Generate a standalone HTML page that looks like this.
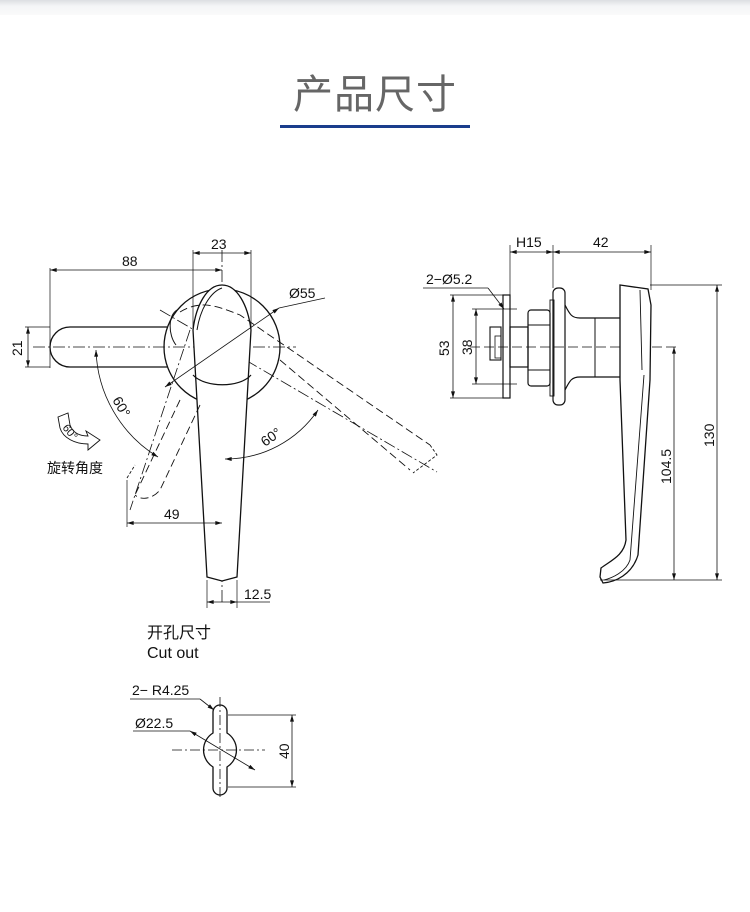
<!DOCTYPE html>
<html><head><meta charset="utf-8"><style>
body{margin:0;width:750px;height:912px;background:#fff;overflow:hidden;position:relative;font-family:"Liberation Sans","Noto Sans CJK SC",sans-serif}
.top{position:absolute;left:0;top:0;width:750px;height:15px;background:linear-gradient(#dcdee2,#f4f5f7 40%,#fafafa)}
.title{position:absolute;left:0;width:750px;top:62px;text-align:center;font-size:40px;color:#666;letter-spacing:1px}
.ul{position:absolute;left:280px;top:125px;width:190px;height:3px;background:#1a3d8c}
svg{position:absolute;left:0;top:0}
</style></head><body>
<div class="top"></div>
<div class="title">产品尺寸</div>
<div class="ul"></div>
<svg width="750" height="912" viewBox="0 0 750 912" font-family="Liberation Sans, Noto Sans CJK SC, sans-serif" fill="none" stroke="#111" stroke-width="1">
<defs><marker id="a" viewBox="0 0 10 6" refX="10" refY="3" markerWidth="9" markerHeight="5" orient="auto-start-reverse"><path d="M0,0L10,3L0,6z" fill="#111" stroke="none"/></marker></defs>
<!-- LEFT VIEW -->
<g stroke-dasharray="12,3,2,3" stroke-width="0.8">
<line x1="33" y1="347" x2="296" y2="347"/>
<line x1="222" y1="250" x2="222" y2="605"/>
<line x1="160" y1="310" x2="437" y2="472"/>
<line x1="190" y1="330" x2="130" y2="510"/>
</g>
<circle cx="222" cy="347" r="58" stroke-width="1.3"/>
<path d="M167,327H70A20,20 0 0 0 70,367H167" stroke-width="1.3"/>
<path d="M222,285C207,285 196,305 193,330L207,577L222,581L237,577L251,330C248,305 237,285 222,285Z" fill="#fff" stroke-width="1.3"/>
<path d="M193,375C205,388 240,388 251,375" stroke-width="1.2"/>
<path d="M222,288C210,292 200,310 197,330" stroke-width="1"/>
<path d="M177,310C168,315 168,335 176,345" stroke-width="1"/>
<g stroke-dasharray="8,4" stroke-width="0.9">
<path d="M180,312C200,300 215,305 240,315L430,445"/>
<path d="M280,360L410,470"/>
<path d="M180,400L135,495"/>
<path d="M200,405L160,490C152,500 140,500 135,495"/>
</g>
<path d="M430,445L437,455L413,473" stroke-width="0.9" stroke-dasharray="3,2"/>
<path d="M127,478L135,465" stroke-width="0.9" stroke-dasharray="3,2"/>
<!-- dims -->
<line x1="50" y1="268" x2="50" y2="368" stroke-width="0.7"/>
<line x1="193" y1="250" x2="193" y2="330" stroke-width="0.7"/>
<line x1="251" y1="250" x2="251" y2="330" stroke-width="0.7"/>
<line x1="50" y1="270" x2="222" y2="270" marker-start="url(#a)" marker-end="url(#a)" stroke-width="0.8"/>
<line x1="193" y1="253" x2="251" y2="253" marker-start="url(#a)" marker-end="url(#a)" stroke-width="0.8"/>
<line x1="25" y1="327" x2="50" y2="327" stroke-width="0.7"/>
<line x1="25" y1="367" x2="50" y2="367" stroke-width="0.7"/>
<line x1="28" y1="327" x2="28" y2="367" marker-start="url(#a)" marker-end="url(#a)" stroke-width="0.8"/>
<line x1="165" y1="387" x2="279" y2="308" marker-start="url(#a)" marker-end="url(#a)" stroke-width="0.8"/>
<line x1="279" y1="308" x2="325" y2="298" stroke-width="0.8"/>
<line x1="127" y1="480" x2="127" y2="527" stroke-width="0.7"/>
<line x1="127" y1="523" x2="222" y2="523" marker-start="url(#a)" marker-end="url(#a)" stroke-width="0.8"/>
<line x1="207" y1="580" x2="207" y2="608" stroke-width="0.7"/>
<line x1="237" y1="580" x2="237" y2="608" stroke-width="0.7"/>
<line x1="207" y1="602" x2="237" y2="602" marker-start="url(#a)" marker-end="url(#a)" stroke-width="0.8"/>
<line x1="237" y1="602" x2="270" y2="602" stroke-width="0.8"/>
<path d="M96,350A130,130 0 0 0 158,457" marker-start="url(#a)" marker-end="url(#a)" stroke-width="0.8"/>
<path d="M225,459A112,112 0 0 0 318,410" marker-start="url(#a)" marker-end="url(#a)" stroke-width="0.8"/>
<g fill="#111" stroke="none" font-size="14">
<text x="122" y="266">88</text><text x="211" y="249">23</text>
<text x="289" y="298">Ø55</text><text x="244" y="599">12.5</text>
<text x="164" y="519">49</text>
<text transform="translate(22,356) rotate(-90)">21</text>
<text transform="translate(112,400) rotate(60)">60°</text>
<text transform="translate(265,447) rotate(-35)">60°</text>
<text x="47" y="473" font-size="14">旋转角度</text>
</g>
<path d="M58,417L68,413L70,425C73,433 80,436 88,436L86,431L100,440L88,450L88,444C75,444 63,438 60,428Z" stroke-width="0.9"/>
<text transform="translate(62,428) rotate(50)" font-size="11" fill="#111" stroke="none">60°</text>
<!-- RIGHT VIEW -->
<line x1="470" y1="347" x2="680" y2="347" stroke-dasharray="10,4" stroke-width="0.8"/>
<rect x="503" y="295" width="7" height="103" stroke-width="1.2"/>
<rect x="490" y="327" width="11" height="33" stroke-width="1.1"/>
<rect x="495" y="336" width="6" height="22" stroke-width="0.8"/>
<rect x="510" y="327" width="18" height="40" stroke-width="1.2"/>
<rect x="528" y="310" width="22" height="76" rx="3" stroke-width="1.2"/>
<line x1="528" y1="325" x2="550" y2="325"/><line x1="528" y1="370" x2="550" y2="370"/>
<rect x="550" y="300" width="4" height="96" stroke-width="0.9"/>
<rect x="553" y="288" width="12" height="117" rx="5" stroke-width="1.2"/>
<path d="M565,305C570,315 572,318 580,318H620M565,390C570,380 572,377 580,377H620" stroke-width="1.2"/>
<line x1="595" y1="318" x2="595" y2="377"/>
<path d="M620,285L648,289L651,305L650,380L638,555C632,575 615,582 603,583L600,577L601,568C612,560 624,555 626,540L620,380Z" fill="#fff" stroke-width="1.3"/>
<path d="M640,290L642,370M644,375L630,560C626,572 612,578 604,580" stroke-width="0.9"/>
<!-- right dims -->
<line x1="510" y1="245" x2="510" y2="295" stroke-width="0.7"/>
<line x1="553" y1="245" x2="553" y2="288" stroke-width="0.7"/>
<line x1="651" y1="245" x2="651" y2="290" stroke-width="0.7"/>
<line x1="510" y1="252" x2="553" y2="252" marker-start="url(#a)" marker-end="url(#a)" stroke-width="0.8"/>
<line x1="553" y1="252" x2="651" y2="252" marker-start="url(#a)" marker-end="url(#a)" stroke-width="0.8"/>
<line x1="423" y1="288" x2="488" y2="288" stroke-width="0.8"/>
<line x1="488" y1="288" x2="504" y2="309" marker-end="url(#a)" stroke-width="0.8"/>
<line x1="450" y1="295" x2="505" y2="295" stroke-width="0.7"/>
<line x1="450" y1="398" x2="505" y2="398" stroke-width="0.7"/>
<line x1="472" y1="309" x2="517" y2="309" stroke-width="0.7"/>
<line x1="472" y1="384" x2="517" y2="384" stroke-width="0.7"/>
<line x1="453" y1="295" x2="453" y2="398" marker-start="url(#a)" marker-end="url(#a)" stroke-width="0.8"/>
<line x1="476" y1="309" x2="476" y2="384" marker-start="url(#a)" marker-end="url(#a)" stroke-width="0.8"/>
<line x1="650" y1="285" x2="722" y2="285" stroke-width="0.7"/>
<line x1="600" y1="580" x2="722" y2="580" stroke-width="0.7"/>
<line x1="717" y1="285" x2="717" y2="580" marker-start="url(#a)" marker-end="url(#a)" stroke-width="0.8"/>
<line x1="674" y1="347" x2="674" y2="580" marker-start="url(#a)" marker-end="url(#a)" stroke-width="0.8"/>
<g fill="#111" stroke="none" font-size="14">
<text x="516" y="247">H15</text><text x="593" y="247">42</text>
<text x="426" y="284">2−Ø5.2</text>
<text transform="translate(449,356) rotate(-90)">53</text>
<text transform="translate(472,355) rotate(-90)">38</text>
<text transform="translate(714,447) rotate(-90)">130</text>
<text transform="translate(671,484) rotate(-90)">104.5</text>
</g>
<!-- CUTOUT -->
<g fill="#111" stroke="none" font-size="16">
<text x="147" y="638">开孔尺寸</text><text x="147" y="658">Cut out</text>
<text x="132" y="695" font-size="14">2− R4.25</text>
<text x="135" y="728" font-size="14">Ø22.5</text>
</g>
<path d="M213,712A7,7 0 0 1 227,712V733A20,20 0 0 1 227,767V788A7,7 0 0 1 213,788V767A20,20 0 0 1 213,733Z" stroke-width="1.3"/>
<line x1="220" y1="697" x2="220" y2="800" stroke-dasharray="10,3,2,3" stroke-width="0.8"/>
<line x1="172" y1="750" x2="265" y2="750" stroke-dasharray="10,3,2,3" stroke-width="0.8"/>
<line x1="130" y1="699" x2="200" y2="699" stroke-width="0.8"/>
<line x1="200" y1="699" x2="214" y2="710" marker-end="url(#a)" stroke-width="0.8"/>
<line x1="133" y1="731" x2="190" y2="731" stroke-width="0.8"/>
<line x1="190" y1="731" x2="255" y2="770" marker-start="url(#a)" marker-end="url(#a)" stroke-width="0.8"/>
<line x1="228" y1="715" x2="296" y2="715" stroke-width="0.7"/>
<line x1="228" y1="787" x2="296" y2="787" stroke-width="0.7"/>
<line x1="292" y1="715" x2="292" y2="787" marker-start="url(#a)" marker-end="url(#a)" stroke-width="0.8"/>
<text transform="translate(289,759) rotate(-90)" font-size="14" fill="#111" stroke="none">40</text>
</svg>
</body></html>
